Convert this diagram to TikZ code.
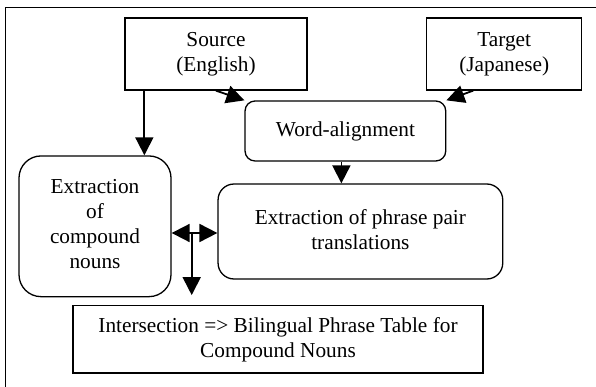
\documentclass[tikz,border=0pt]{standalone}
\usepackage{fontspec}
\setmainfont{Liberation Serif}
\usetikzlibrary{arrows.meta}
\begin{document}
\begin{tikzpicture}[x=1pt,y=-1pt,
  every node/.style={font=\fontsize{21.3}{25}\selectfont, align=center, inner sep=0pt},
  sqbox/.style={draw, line width=1.3pt},
  rbox/.style={draw, line width=1.3pt},
  conn/.style={line width=1.8pt, -{Triangle[length=18pt,width=18pt]}},
  dconn/.style={line width=1.8pt, {Triangle[length=18pt,width=18pt]}-{Triangle[length=18pt,width=18pt]}}
]
\useasboundingbox (0,0) rectangle (596,387);
\draw[line width=1.6pt] (596,7.5) -- (5.5,7.5) -- (5.5,387);

\node[sqbox, minimum width=182pt, minimum height=72pt] (src) at (216,54) {Source\\(English)};
\node[sqbox, minimum width=155pt, minimum height=72pt] (tgt) at (504.2,54) {Target\\(Japanese)};
\node[rbox, rounded corners=10pt, minimum width=200.7pt, minimum height=60pt] (wa) at (345.4,131) {\raisebox{3pt}{Word-alignment}};
\node[rbox, rounded corners=22pt, minimum width=152pt, minimum height=140.7pt] (ecn) at (95,226.3) {\raisebox{3pt}{\begin{tabular}{@{}c@{}}Extraction\\of\\compound\\nouns\end{tabular}}};
\node[rbox, rounded corners=16pt, minimum width=284.7pt, minimum height=95pt] (epp) at (360.4,231.5) {\raisebox{7.5pt}{\begin{tabular}{@{}c@{}}Extraction of phrase pair\\translations\end{tabular}}};
\node[sqbox, minimum width=410pt, minimum height=67.3pt] (isec) at (278,339.4) {Intersection =>{} Bilingual Phrase Table for\\Compound Nouns};

\coordinate (j) at (191.7,233);

\draw[conn] ([xshift=20pt]src.south west) -- ([xshift=20pt]src.south west |- ecn.north);
\draw[conn] (src.south) -- (wa.north west);
\draw[conn] ([xshift=-31pt]tgt.south) -- (wa.north east);
\draw[conn] ([xshift=-4pt]wa.south) -- ([xshift=-4pt]wa.south |- epp.north);
\draw[dconn] (ecn.east |- j) -- (epp.west |- j);
\draw[conn, shorten >=10pt] (j) -- (j |- isec.north);
\end{tikzpicture}
\end{document}
